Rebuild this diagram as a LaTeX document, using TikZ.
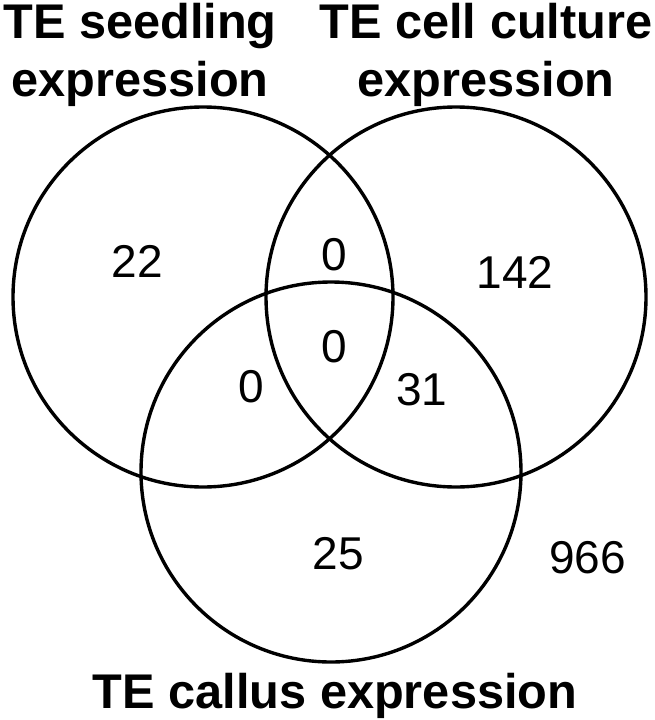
\documentclass[tikz,border=0pt]{standalone}
\usepackage{fontspec}
\setmainfont{Liberation Sans}
\usepackage{tikz}

\begin{document}
\begin{tikzpicture}[
    x=1pt, y=-1pt,
    ring/.style={draw=black, line width=3.4pt},
    setlabel/.style={font=\fontsize{48.7}{58}\selectfont\bfseries, align=center, inner sep=0pt},
    count/.style={font=\fontsize{46}{50}\selectfont, anchor=base, inner sep=0pt}
]

  % Define variables for better adjustability
  \def\ringRad{190}       % Radius of every set circle

  \useasboundingbox (0,0) rectangle (654,720);

  % Centres of the three sets
  \coordinate (Seed) at (203,297);
  \coordinate (Cult) at (456,297);
  \coordinate (Call) at (331,472);

  % Draw the circles
  \draw[ring] (Seed) circle [radius=\ringRad];
  \draw[ring] (Cult) circle [radius=\ringRad];
  \draw[ring] (Call) circle [radius=\ringRad];

  % Set names
  \node[setlabel, anchor=north] (seedName) at (140,3) {TE seedling\\expression};
  \node[setlabel, anchor=north] (cultName) at (486,3) {TE cell culture\\expression};
  \node[setlabel, anchor=base] (callName) at (335,708) {TE callus expression};

  % Counts in each region
  \node[count] (nSeed)     at (137.5,277) {22};
  \node[count] (nSeedCult) at (334,270)   {0};
  \node[count] (nCult)     at (515,288)   {142};
  \node[count] (nAll)      at (334,362)   {0};
  \node[count] (nSeedCall) at (251,402)   {0};
  \node[count] (nCultCall) at (422,405)   {31};
  \node[count] (nCall)     at (338.5,569) {25};
  \node[count] (nNone)     at (587.5,573) {966};

\end{tikzpicture}
\end{document}
